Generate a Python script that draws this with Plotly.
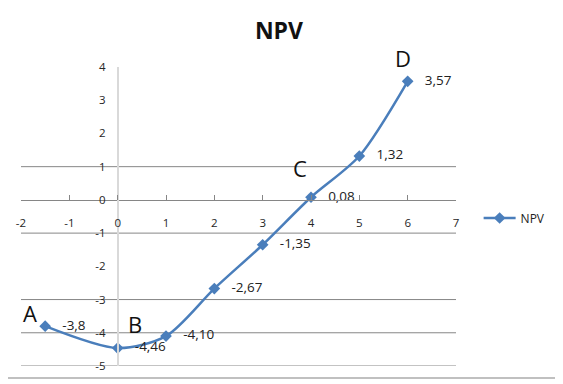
import plotly.graph_objects as go

# ---- data ----
x_vals = [-1.5, 0, 1, 2, 3, 4, 5, 6]
npv_vals = [-3.8, -4.46, -4.10, -2.67, -1.35, 0.08, 1.32, 3.57]
value_labels = ["-3,8", "-4,46", "-4,10", "-2,67", "-1,35", "0,08", "1,32", "3,57"]
x_ticks = [-2, -1, 0, 1, 2, 3, 4, 5, 6, 7]
y_ticks = [-5, -4, -3, -2, -1, 0, 1, 2, 3, 4]
grid_levels = [1, -1, -3, -4, -5]
point_names = ["A", "B", "C", "D"]
# text anchors for the letters (paper coords of the plot area)
name_px = [0.021, 0.262, 0.641, 0.878]
name_py = [0.177, 0.142, 0.662, 1.030]

BLUE = "#4a7ebb"
FONT = "Open Sans"

fig = go.Figure()
fig.add_trace(go.Scatter(
    x=x_vals, y=npv_vals, name="NPV",
    mode="lines+markers+text",
    text=["   " + t for t in value_labels],
    textposition="middle right",
    textfont=dict(family=FONT, size=13.5, color="#222"),
    line=dict(color=BLUE, width=2.5, shape="spline", smoothing=0.8),
    marker=dict(symbol="diamond", size=9, color=BLUE),
    cliponaxis=False,
))

for n, ax, ay in zip(point_names, name_px, name_py):
    fig.add_annotation(x=ax, y=ay, xref="paper", yref="paper", text=n,
                       showarrow=False, xanchor="center", yanchor="middle",
                       font=dict(family=FONT, size=22, color="#111"))

for g in grid_levels:
    fig.add_shape(type="line", xref="paper", yref="y", x0=0, x1=1, y0=g, y1=g,
                  line=dict(color="#868686", width=1), layer="below")

fig.update_layout(
    template="none",
    width=563, height=384,
    margin=dict(l=13, r=115, t=59, b=26, pad=0),
    paper_bgcolor="white", plot_bgcolor="white",
    font=dict(family=FONT, size=11, color="#262626"),
    title=dict(text="<b>NPV</b>", x=0.593, xref="paper", y=0.94, yref="container",
               xanchor="center", yanchor="middle",
               font=dict(family=FONT, size=23, color="#111")),
    showlegend=True,
    legend=dict(x=1.052, y=0.495, xanchor="left", yanchor="middle",
                font=dict(family=FONT, size=12, color="#222"),
                bgcolor="rgba(0,0,0,0)", borderwidth=0, itemwidth=32),
    xaxis=dict(range=[-2, 7], tickvals=x_ticks, ticktext=[str(v) for v in x_ticks],
               showgrid=False, zeroline=False,
               showline=True, linecolor="#868686", linewidth=1,
               ticks="inside", ticklen=5, tickcolor="#868686",
               anchor="free", position=5/9, ticklabelstandoff=12, automargin=False,
               tickfont=dict(family=FONT, size=11.5, color="#262626")),
    yaxis=dict(range=[-5, 4], tickvals=y_ticks, ticktext=[str(v) for v in y_ticks],
               showgrid=False, zeroline=False,
               showline=True, linecolor="#d9d9d9", linewidth=1.5,
               ticks="", anchor="free", position=2/9, ticklabelstandoff=9,
               automargin=False,
               tickfont=dict(family=FONT, size=11.5, color="#262626")),
)

# outer chart border (right and bottom edges visible)
fig.add_shape(type="rect", xref="paper", yref="paper",
              x0=-0.06, x1=1.2322, y0=-0.0401, y1=1.3,
              line=dict(color="#c0c0c0", width=2), layer="below")

fig.write_html("out.html")
